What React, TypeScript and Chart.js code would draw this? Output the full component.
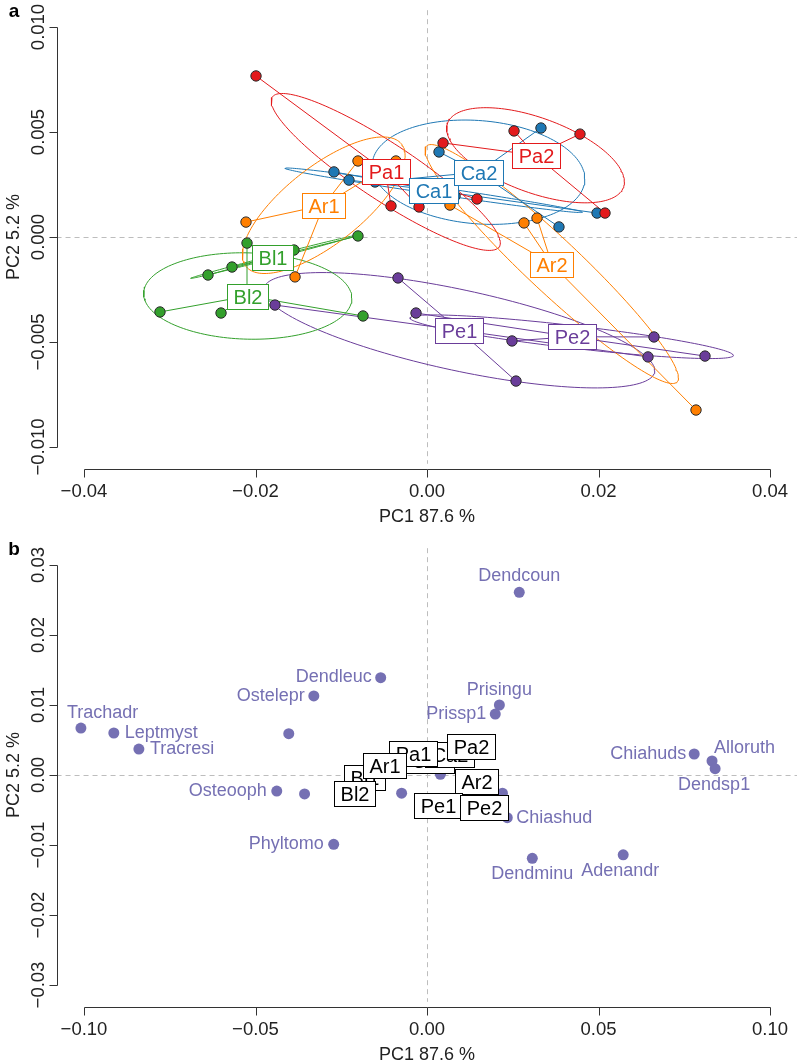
import React, { useEffect, useRef } from "react";
import { Chart, registerables } from "chart.js";

Chart.register(...registerables);

const FONT = '"Liberation Sans", Arial, Helvetica, sans-serif';

// ---------------- Panel a: specimen scores [PC1, PC2] per group ----------------
const Ar1 = [[-0.00805, 0.00362], [-0.02111, 0.00071], [-0.01539, -0.0019], [-0.00362, 0.00362]];
const Ar2 = [[0.00268, 0.00152], [0.01131, 0.00067], [0.01283, 0.0009], [0.03137, -0.00824]];
const Bl1 = [[-0.02554, -0.00181], [-0.02274, -0.00143], [-0.00805, 0.00005], [-0.01551, -0.00062]];
const Bl2 = [[-0.03114, -0.00357], [-0.02402, -0.00362], [-0.00746, -0.00376], [-0.02099, -0.00029]];
const Ca1 = [[-0.01085, 0.0031], [-0.0091, 0.00271], [0.00327, 0.00195], [0.01983, 0.00114]];
const Ca2 = [[0.0014, 0.00405], [0.01329, 0.00519], [0.01539, 0.00048], [-0.00606, 0.00262]];
const Pa1 = [[-0.01994, 0.00767], [-0.0042, 0.00148], [-0.00093, 0.00143], [0.00583, 0.00181]];
const Pa2 = [[0.00187, 0.00448], [0.01015, 0.00505], [0.01784, 0.0049], [0.02076, 0.00114]];
const Pe1 = [[-0.00338, -0.00195], [0.01038, -0.00686], [-0.01773, -0.00324], [0.02577, -0.00571]];
const Pe2 = [[-0.00128, -0.00362], [0.00991, -0.00495], [0.02647, -0.00476], [0.03242, -0.00567]];

const groupNamesA = ["Ar1", "Ar2", "Bl1", "Bl2", "Pa1", "Pa2", "Ca1", "Ca2", "Pe1", "Pe2"];
const groupPointsA: Record<string, number[][]> = { Ar1, Ar2, Bl1, Bl2, Ca1, Ca2, Pa1, Pa2, Pe1, Pe2 };
const speciesColors: Record<string, string> = {
  Ar: "#FF7F00",
  Bl: "#33A02C",
  Ca: "#1F78B4",
  Pa: "#E31A1C",
  Pe: "#6A3D9A",
};

const xTicksA = [-0.04, -0.02, 0, 0.02, 0.04];
const xTickLabelsA = ["\u22120.04", "\u22120.02", "0.00", "0.02", "0.04"];
const yTicksA = [-0.01, -0.005, 0, 0.005, 0.01];
const yTickLabelsA = ["\u22120.010", "\u22120.005", "0.000", "0.005", "0.010"];

// ---------------- Panel b: species and site scores ----------------
const speciesNames = [
  "Trachadr", "Leptmyst", "Tracresi", "Ostelepr", "Dendleuc", "", "Osteooph", "", "Phyltomo", "",
  "Dendcoun", "Prisingu", "Prissp1", "Chiahuds", "Alloruth", "Dendsp1", "", "", "Chiashud", "Dendminu", "Adenandr",
];
const speciesPC1 = [
  -0.1009, -0.0913, -0.084, -0.033, -0.0135, -0.0403, -0.0438, -0.0357, -0.0272, -0.0074,
  0.0269, 0.0211, 0.0199, 0.0779, 0.0831, 0.084, 0.0039, 0.022, 0.0234, 0.0307, 0.0572,
];
const speciesPC2 = [
  0.0067, 0.006, 0.0037, 0.0113, 0.0139, 0.0059, -0.0023, -0.0027, -0.0099, -0.0026,
  0.0261, 0.01, 0.0087, 0.003, 0.002, 0.0009, 0.0001, -0.0026, -0.0061, -0.0119, -0.0114,
];
// label placement (style only): [dx px, dy px, align]
const speciesLabelPlacement: [number, number, CanvasTextAlign][] = [
  [-14, -15, "left"], [11, 0, "left"], [11, 0, "left"], [-9, 0, "right"], [-9, -1, "right"], [0, 0, "center"],
  [-10, 0, "right"], [0, 0, "center"], [-10, 0, "right"], [0, 0, "center"],
  [0, -16, "center"], [0, -15, "center"], [-9, 0, "right"], [-8, 0, "right"], [2, -13, "left"], [-1, 16, "center"],
  [0, 0, "center"], [0, 0, "center"], [9, 0, "left"], [0, 16, "center"], [-3, 16, "center"],
];

const siteNames = ["Ca1", "Ca2", "Pa1", "Pa2", "Bl1", "Bl2", "Ar1", "Ar2", "Pe1", "Pe2"];
const sitePC1 = [0.0007, 0.0066, -0.0042, 0.0127, -0.0182, -0.0211, -0.0124, 0.0144, 0.0033, 0.0167];
const sitePC2 = [0.0021, 0.0029, 0.0031, 0.004, -0.0004, -0.0027, 0.0014, -0.001, -0.0043, -0.0047];

const xTicksB = [-0.1, -0.05, 0, 0.05, 0.1];
const xTickLabelsB = ["\u22120.10", "\u22120.05", "0.00", "0.05", "0.10"];
const yTicksB = [-0.03, -0.02, -0.01, 0, 0.01, 0.02, 0.03];
const yTickLabelsB = ["\u22120.03", "\u22120.02", "\u22120.01", "0.00", "0.01", "0.02", "0.03"];

const xTitle = "PC1 87.6 %";
const yTitle = "PC2 5.2 %";

const SPECIES_B_COLOR = "#7570B3";
const CHI2_95_DF2 = 5.991464547;

// ---------- helpers ----------
function centroid(pts: number[][]) {
  const n = pts.length;
  let sx = 0, sy = 0;
  pts.forEach((p) => { sx += p[0]; sy += p[1]; });
  return { x: sx / n, y: sy / n };
}

// standard-error ellipse (95 %), as vegan::ordiellipse(kind = "se")
function seEllipse(pts: number[][], seg = 160) {
  const n = pts.length;
  const c = centroid(pts);
  let sxx = 0, syy = 0, sxy = 0;
  pts.forEach((p) => {
    const dx = p[0] - c.x, dy = p[1] - c.y;
    sxx += dx * dx; syy += dy * dy; sxy += dx * dy;
  });
  sxx /= (n - 1) * n; syy /= (n - 1) * n; sxy /= (n - 1) * n;
  const s = Math.sqrt(CHI2_95_DF2);
  const l11 = Math.sqrt(sxx);
  const l21 = sxy / l11;
  const l22 = Math.sqrt(Math.max(syy - l21 * l21, 0));
  const out: { x: number; y: number }[] = [];
  for (let i = 0; i <= seg; i++) {
    const t = (i / seg) * Math.PI * 2;
    const u = Math.cos(t), v = Math.sin(t);
    out.push({ x: c.x + s * l11 * u, y: c.y + s * (l21 * u + l22 * v) });
  }
  return out;
}

function drawBox(ctx: CanvasRenderingContext2D, cx: number, cy: number, text: string, color: string) {
  ctx.font = `20px ${FONT}`;
  const w = Math.round(ctx.measureText(text).width + 12);
  const h = 25;
  const x = Math.round(cx - w / 2) + 0.5;
  const y = Math.round(cy - h / 2) + 0.5;
  ctx.fillStyle = "#ffffff";
  ctx.fillRect(x, y, w, h);
  ctx.strokeStyle = color;
  ctx.lineWidth = 1;
  ctx.strokeRect(x, y, w, h);
  ctx.fillStyle = color;
  ctx.textAlign = "center";
  ctx.textBaseline = "middle";
  ctx.fillText(text, x + w / 2, y + h / 2 + 1);
}

type AxesOpts = {
  xTicks: number[]; xLabels: string[]; yTicks: number[]; yLabels: string[]; letter: string;
  overlay: (chart: any) => void;
};

function rAxesPlugin(o: AxesOpts) {
  return {
    id: "rAxes",
    beforeDatasetsDraw(chart: any) {
      const { ctx, chartArea: ca, scales } = chart;
      const x0 = Math.round(scales.x.getPixelForValue(0)) + 0.5;
      const y0 = Math.round(scales.y.getPixelForValue(0)) + 0.5;
      const padX = (ca.right - ca.left) * 0.04;
      const padY = (ca.bottom - ca.top) * 0.04;
      ctx.save();
      ctx.strokeStyle = "#bdbdbd";
      ctx.lineWidth = 1;
      ctx.setLineDash([5, 4]);
      ctx.beginPath();
      ctx.moveTo(ca.left - padX, y0);
      ctx.lineTo(ca.right + padX, y0);
      ctx.moveTo(x0, ca.top - padY);
      ctx.lineTo(x0, ca.bottom + padY);
      ctx.stroke();
      ctx.restore();
    },
    afterDatasetsDraw(chart: any) {
      chart.ctx.save();
      o.overlay(chart);
      chart.ctx.restore();
    },
    afterDraw(chart: any) {
      const { ctx, chartArea: ca, scales } = chart;
      const xs = scales.x, ys = scales.y;
      ctx.save();
      ctx.strokeStyle = "#333333";
      ctx.fillStyle = "#222222";
      ctx.lineWidth = 1;
      // x axis
      const axY = Math.round(ca.bottom + 22) + 0.5;
      const xFirst = Math.round(xs.getPixelForValue(o.xTicks[0])) + 0.5;
      const xLast = Math.round(xs.getPixelForValue(o.xTicks[o.xTicks.length - 1])) + 0.5;
      ctx.beginPath();
      ctx.moveTo(xFirst, axY);
      ctx.lineTo(xLast, axY);
      o.xTicks.forEach((t) => {
        const px = Math.round(xs.getPixelForValue(t)) + 0.5;
        ctx.moveTo(px, axY);
        ctx.lineTo(px, axY + 8);
      });
      // y axis
      const axX = Math.round(ca.left - 27) + 0.5;
      const yFirst = Math.round(ys.getPixelForValue(o.yTicks[0])) + 0.5;
      const yLast = Math.round(ys.getPixelForValue(o.yTicks[o.yTicks.length - 1])) + 0.5;
      ctx.moveTo(axX, yFirst);
      ctx.lineTo(axX, yLast);
      o.yTicks.forEach((t) => {
        const py = Math.round(ys.getPixelForValue(t)) + 0.5;
        ctx.moveTo(axX, py);
        ctx.lineTo(axX - 8, py);
      });
      ctx.stroke();

      ctx.font = `18.5px ${FONT}`;
      ctx.textAlign = "center";
      ctx.textBaseline = "middle";
      o.xTicks.forEach((t, i) => {
        ctx.fillText(o.xLabels[i], xs.getPixelForValue(t), axY + 22);
      });
      o.yTicks.forEach((t, i) => {
        ctx.save();
        ctx.translate(axX - 19, ys.getPixelForValue(t));
        ctx.rotate(-Math.PI / 2);
        ctx.fillText(o.yLabels[i], 0, 0);
        ctx.restore();
      });
      ctx.font = `18px ${FONT}`;
      ctx.fillText(xTitle, (ca.left + ca.right) / 2, axY + 48);
      ctx.save();
      ctx.translate(14, (ca.top + ca.bottom) / 2);
      ctx.rotate(-Math.PI / 2);
      ctx.fillText(yTitle, 0, 0);
      ctx.restore();
      ctx.font = `bold 19px ${FONT}`;
      ctx.fillStyle = "#000";
      ctx.fillText(o.letter, 14, ca.top - 15);
      ctx.restore();
    },
  };
}

function colorOf(name: string) {
  return speciesColors[name.slice(0, 2)];
}

function configA(): any {
  const datasets: any[] = [];
  groupNamesA.forEach((g) => {
    const pts = groupPointsA[g];
    const col = colorOf(g);
    const c = centroid(pts);
    datasets.push({
      data: seEllipse(pts), showLine: true, borderColor: col, borderWidth: 1,
      pointRadius: 0, fill: false, order: 3, clip: false,
    });
    pts.forEach((p) => {
      datasets.push({
        data: [c, { x: p[0], y: p[1] }], showLine: true, borderColor: col, borderWidth: 1,
        pointRadius: 0, fill: false, order: 2, clip: false,
      });
    });
  });
  groupNamesA.forEach((g) => {
    const col = colorOf(g);
    datasets.push({
      data: groupPointsA[g].map((p) => ({ x: p[0], y: p[1] })),
      backgroundColor: col, borderColor: "#2a2a2a", borderWidth: 1,
      pointRadius: 5.2, order: 1, clip: false,
    });
  });
  return {
    type: "scatter",
    data: { datasets },
    options: {
      responsive: false, animation: false, devicePixelRatio: 1, events: [],
      layout: { padding: { left: 84, right: 27, top: 27, bottom: 91 } },
      scales: {
        x: { type: "linear", min: -0.04, max: 0.04, display: false },
        y: { type: "linear", min: -0.01, max: 0.01, display: false },
      },
      plugins: { legend: { display: false }, tooltip: { enabled: false } },
    },
    plugins: [
      rAxesPlugin({
        xTicks: xTicksA, xLabels: xTickLabelsA, yTicks: yTicksA, yLabels: yTickLabelsA, letter: "a",
        overlay: (chart: any) => {
          const { ctx, scales } = chart;
          groupNamesA.forEach((g) => {
            const c = centroid(groupPointsA[g]);
            drawBox(ctx, scales.x.getPixelForValue(c.x), scales.y.getPixelForValue(c.y), g, colorOf(g));
          });
        },
      }),
    ],
  };
}

function configB(): any {
  const datasets: any[] = [
    {
      data: speciesPC1.map((x, i) => ({ x, y: speciesPC2[i] })),
      backgroundColor: SPECIES_B_COLOR, borderColor: SPECIES_B_COLOR, borderWidth: 0,
      pointRadius: 5.5, clip: false,
    },
  ];
  return {
    type: "scatter",
    data: { datasets },
    options: {
      responsive: false, animation: false, devicePixelRatio: 1, events: [],
      layout: { padding: { left: 84, right: 27, top: 27, bottom: 75 } },
      scales: {
        x: { type: "linear", min: -0.1, max: 0.1, display: false },
        y: { type: "linear", min: -0.03, max: 0.03, display: false },
      },
      plugins: { legend: { display: false }, tooltip: { enabled: false } },
    },
    plugins: [
      rAxesPlugin({
        xTicks: xTicksB, xLabels: xTickLabelsB, yTicks: yTicksB, yLabels: yTickLabelsB, letter: "b",
        overlay: (chart: any) => {
          const { ctx, scales } = chart;
          ctx.font = `18px ${FONT}`;
          ctx.textBaseline = "middle";
          ctx.fillStyle = SPECIES_B_COLOR;
          speciesNames.forEach((name, i) => {
            if (!name) return;
            const [dx, dy, align] = speciesLabelPlacement[i];
            ctx.textAlign = align;
            ctx.fillText(
              name,
              scales.x.getPixelForValue(speciesPC1[i]) + dx,
              scales.y.getPixelForValue(speciesPC2[i]) + dy
            );
          });
          siteNames.forEach((s, i) => {
            drawBox(ctx, scales.x.getPixelForValue(sitePC1[i]), scales.y.getPixelForValue(sitePC2[i]), s, "#000000");
          });
        },
      }),
    ],
  };
}

export default function App() {
  const refA = useRef<HTMLCanvasElement>(null);
  const refB = useRef<HTMLCanvasElement>(null);
  useEffect(() => {
    const a = new Chart(refA.current as HTMLCanvasElement, configA());
    const b = new Chart(refB.current as HTMLCanvasElement, configB());
    return () => {
      a.destroy();
      b.destroy();
    };
  }, []);
  return (
    <div style={{ position: "absolute", left: 0, top: 0, width: 797, height: 1060, background: "#ffffff" }}>
      <canvas ref={refA} width={797} height={538} style={{ position: "absolute", left: 0, top: 0 }} />
      <canvas ref={refB} width={797} height={522} style={{ position: "absolute", left: 0, top: 538 }} />
    </div>
  );
}
